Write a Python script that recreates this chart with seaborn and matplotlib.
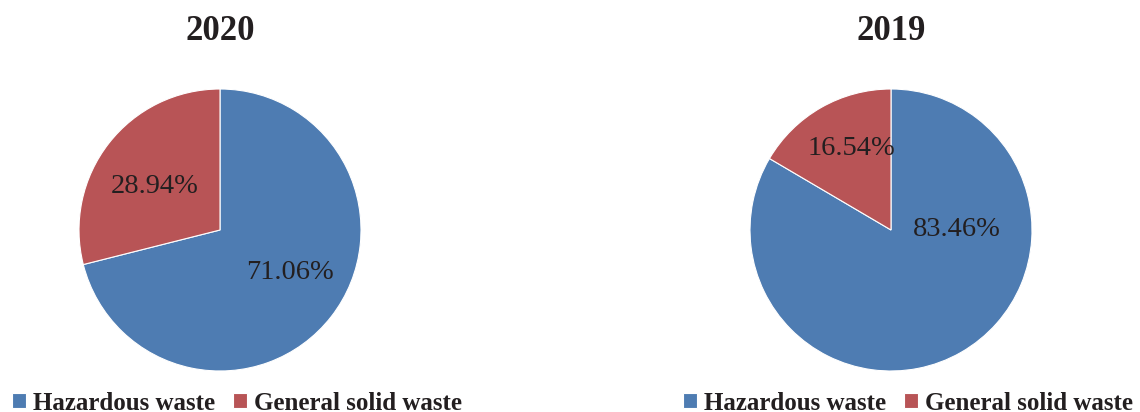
import matplotlib
matplotlib.use('Agg')
import matplotlib.pyplot as plt
import seaborn as sns

# data
categories = ['Hazardous waste', 'General solid waste']
years = ['2020', '2019']
share_2020 = [71.06, 28.94]
share_2019 = [83.46, 16.54]
colors = ['#4E7CB2', '#B85456']

sns.set_theme(style='white')
plt.rcParams['font.family'] = ['Liberation Serif', 'DejaVu Serif']
text_color = '#231F20'

# where the original placed the percentage labels (pie radius = 1)
label_pos = {'2020': [(0.50, -0.30), (-0.46, 0.31)],
             '2019': [(0.47, 0.0), (-0.28, 0.58)]}

fig = plt.figure(figsize=(11.4, 4.12), dpi=100)
W, H = 1140, 412
r = 141
centers = [220, 891]
cy = 230

for i, (year, vals) in enumerate(zip(years, [share_2020, share_2019])):
    cx = centers[i]
    ax = fig.add_axes([(cx - r) / W, (H - cy - r) / H, 2 * r / W, 2 * r / H])
    wedges, texts, autotexts = ax.pie(vals, colors=colors, startangle=90, counterclock=False,
                                      autopct='%.2f%%', pctdistance=0.6,
                                      wedgeprops={'linewidth': 0.8, 'edgecolor': 'white'},
                                      textprops={'fontsize': 20.5, 'color': text_color})
    ax.set_xlim(-1, 1)
    ax.set_ylim(-1, 1)
    ax.set_aspect('equal')
    for t, pos in zip(autotexts, label_pos[year]):
        t.set_position(pos)
    fig.text(cx / W, 1 - 31 / H, year, ha='center', va='center', fontsize=25,
             fontweight='bold', color=text_color)
    fig.legend(wedges, categories, loc='center left', ncol=2, frameon=False,
               bbox_to_anchor=((cx - 208) / W, (H - 403) / H), borderpad=0, borderaxespad=0,
               handlelength=0.55, handleheight=0.55, handletextpad=0.3, columnspacing=0.7,
               prop={'size': 18, 'weight': 'bold'}, labelcolor=text_color)

fig.savefig('out.png', dpi=100)
plt.close('all')
